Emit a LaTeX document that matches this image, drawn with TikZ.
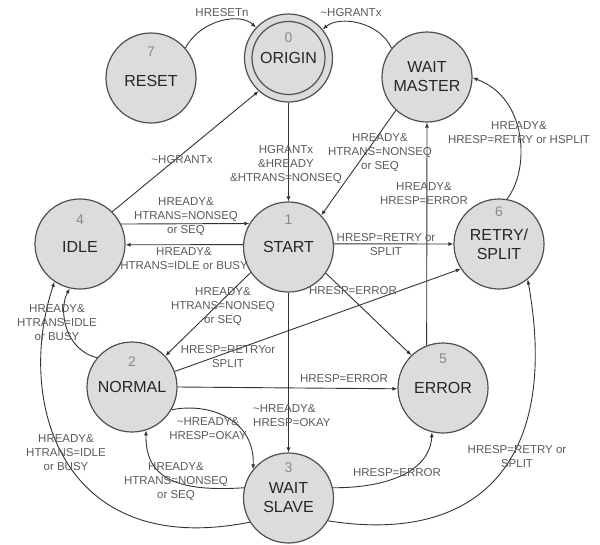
\documentclass[tikz,border=0pt]{standalone}
\usepackage{fontspec}
\setmainfont{Liberation Sans}
\usetikzlibrary{arrows.meta}
\definecolor{statefill}{HTML}{DCDCDC}
\definecolor{stateline}{HTML}{505050}
\definecolor{numgray}{HTML}{8A8A8A}
\definecolor{lblgray}{HTML}{5A5A5A}
\definecolor{edgecol}{HTML}{333333}
\begin{document}
\begin{tikzpicture}[x=1pt,y=-1pt,
  state/.style={circle,draw=stateline,line width=1.2pt,fill=statefill,minimum size=90pt,inner sep=0pt,
    font=\fontsize{16}{19}\selectfont,text=black!85,align=center},
  lowtext/.style={text height=16pt,text depth=0pt},
  numlbl/.style={font=\fontsize{14}{14}\selectfont,text=numgray,inner sep=0pt},
  elabel/.style={font=\fontsize{11.5}{14}\selectfont,text=lblgray,align=center,inner sep=0pt},
  edge/.style={draw=edgecol,line width=0.9pt,-{Latex[length=5pt,width=4pt]}}]
\useasboundingbox (0,0) rectangle (600,544);

% states
\node[state,lowtext] (reset) at (151,78) {RESET};
\node[state,minimum size=88pt] (origin) at (288.5,58) {};
\node[state,minimum size=73pt] (originin) at (288.5,58) {ORIGIN};
\node[state] (wmaster) at (427,77) {WAIT\\MASTER};
\node[state,lowtext] (idle) at (80,244) {IDLE};
\node[state] (start) at (288.5,247) {START};
\node[state] (retry) at (499,244) {RETRY/\\SPLIT};
\node[state] (normal) at (132,387) {NORMAL};
\node[state] (error) at (443,388) {ERROR};
\node[state] (wslave) at (288.5,498) {WAIT\\SLAVE};

% state numbers
\node[numlbl] (n7) at (151,52) {7};
\node[numlbl] (n0) at (288.5,38) {0};
\node[numlbl] (n4) at (80,220) {4};
\node[numlbl] (n1) at (288.5,220) {1};
\node[numlbl] (n6) at (499,212) {6};
\node[numlbl] (n2) at (132,362) {2};
\node[numlbl] (n5) at (443,359) {5};
\node[numlbl] (n3) at (288.5,468) {3};

% transitions
\draw[edge] (reset.41) .. controls (200,20) and (240,12) .. (origin.137);
\draw[edge] (wmaster.141) .. controls (380,22) and (340,15) .. (origin.40);
\draw[edge] (idle.45) -- (origin.228);
\draw[edge] (origin.270) -- (start.90);
\draw[edge] (wmaster.227) -- (start.44);
\draw[edge] (error.111) -- (wmaster.270);
\draw[edge] (retry.80) .. controls (530,170) and (528,98) .. (wmaster.-1);
\draw[edge] (idle.26) -- (start.149);
\draw[edge] (start.177) -- (idle.-1);
\draw[edge] (start.4) -- (retry.180);
\draw[edge] (start.-35) -- (error.134);
\draw[edge] (start.214) -- (normal.43);
\draw[edge] (normal.20) -- (retry.213);
\draw[edge] (normal.0) -- (error.181);
\draw[edge] (start.270) -- (wslave.90);
\draw[edge] (normal.-30) .. controls (210,402) and (255,420) .. (wslave.141);
\draw[edge] (wslave.167) .. controls (180,492) and (145,480) .. (normal.-72);
\draw[edge] (wslave.13) .. controls (390,488) and (430,470) .. (error.256);
\draw[edge] (normal.140) .. controls (65,350) and (58,310) .. (idle.257);
\draw[edge] (wslave.212) .. controls (60,560) and (15,400) .. (idle.236);
\draw[edge] (wslave.-30) .. controls (480,545) and (560,460) .. (retry.-51);

% labels
\node[elabel] (l1) at (222,13) {HRESETn};
\node[elabel] (l2) at (351,13) {\textasciitilde HGRANTx};
\node[elabel] (l3) at (182,160) {\textasciitilde HGRANTx};
\node[elabel] (l4) at (286,165) {HGRANTx\\\&HREADY\\\&HTRANS=NONSEQ};
\node[elabel] (l5) at (380,153) {HREADY\&\\HTRANS=NONSEQ\\or SEQ};
\node[elabel] (l6) at (424,194) {HREADY\&\\HRESP=ERROR};
\node[elabel] (l7) at (519,133) {HREADY\&\\HRESP=RETRY or HSPLIT};
\node[elabel] (l8) at (186,217) {HREADY\&\\HTRANS=NONSEQ\\or SEQ};
\node[elabel] (l9) at (184,259) {HREADY\&\\HTRANS=IDLE or BUSY};
\node[elabel] (l10) at (386,245) {HRESP=RETRY or\\SPLIT};
\node[elabel] (l11) at (353,291) {HRESP=ERROR};
\node[elabel] (l12) at (223,307) {HREADY\&\\HTRANS=NONSEQ\\or SEQ};
\node[elabel] (l13) at (228,357) {HRESP=RETRYor\\SPLIT};
\node[elabel] (l14) at (344,379) {HRESP=ERROR};
\node[elabel,align=left,anchor=west] (l15) at (253,416) {\textasciitilde HREADY\&\\HRESP=OKAY};
\node[elabel] (l16) at (208,429) {\textasciitilde HREADY\&\\HRESP=OKAY};
\node[elabel] (l17) at (176,482) {HREADY\&\\HTRANS=NONSEQ\\or SEQ};
\node[elabel] (l18) at (57,323) {HREADY\&\\HTRANS=IDLE\\or BUSY};
\node[elabel] (l19) at (66,453) {HREADY\&\\HTRANS=IDLE\\or BUSY};
\node[elabel] (l20) at (397,473) {HRESP=ERROR};
\node[elabel] (l21) at (517,457) {HRESP=RETRY or\\SPLIT};
\end{tikzpicture}
\end{document}
